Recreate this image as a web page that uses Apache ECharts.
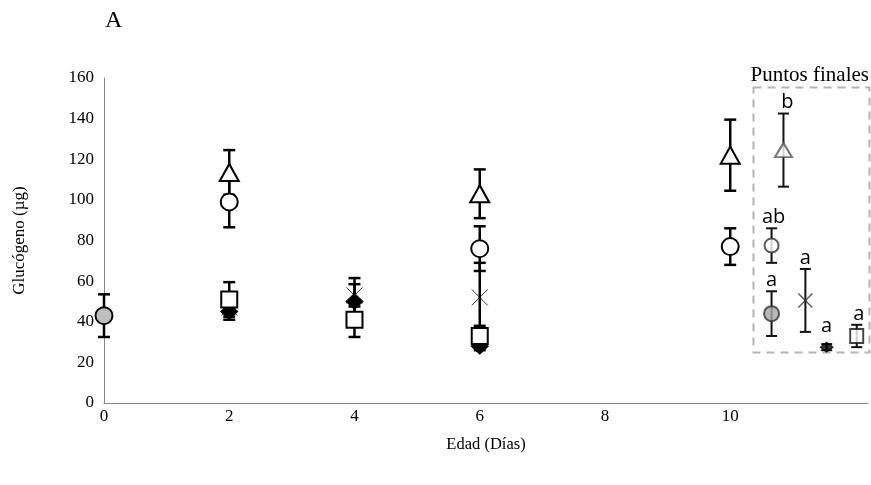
<!DOCTYPE html>
<html><head><meta charset="utf-8">
<script src="https://cdn.jsdelivr.net/npm/echarts@6/dist/echarts.min.js"></script>
<style>html,body{margin:0;padding:0;background:#fff}#c{width:871px;height:485px}</style>
</head><body><div id="c"></div>
<script>
// ---- data ----
const xTicks = [0, 2, 4, 6, 8, 10];
const triX = [2, 6, 10];    const triMean = [113.5, 103, 122];  const triErr = [11, 12, 17.5];
const circX = [2, 6, 10];   const circMean = [99, 76, 77];      const circErr = [12.5, 11, 9];
const sqX = [2, 4, 6];      const sqMean = [51, 41, 33];        const sqErr = [8.5, 8.5, 5];
const diaX = [2, 4, 6];     const diaMean = [45, 50, 28];       const diaErr = [4, 11.5, 2];
const crossX = [2, 4, 6];   const crossMean = [47, 53, 52];     const crossErr = [2, 5.5, 17];
const grayX = [0];          const grayMean = [43];              const grayErr = [10.5];
// end points (Puntos finales): triangle, circle, gray circle, cross, diamond, square
const endX = [10.85, 10.66, 10.66, 11.2, 11.54, 12.02];
const endMean = [124.5, 77.5, 44, 50.5, 27.5, 33];
const endErr = [18, 8.5, 11, 15.5, 1.5, 5.5];
const endLetters = ['b', 'ab', 'a', 'a', 'a', 'a'];

const SERIF = '"Liberation Serif","Times New Roman",serif';
const crossPath = 'path://M0,0L10,10M10,0L0,10';

function zip(xs, ms, es) { return xs.map((x, i) => [x, ms[i], es[i]]); }

function errSeries(xs, ms, es, opt) {
  opt = opt || {};
  const lw = opt.lw || 2.5, cw = opt.cw || 12, col = opt.color || '#000';
  return {
    type: 'custom', z: 2, clip: false, silent: true,
    data: zip(xs, ms, es),
    encode: { x: 0, y: 1 },
    renderItem: function (params, api) {
      const x = api.value(0), m = api.value(1), e = api.value(2);
      const t = api.coord([x, m + e]), b = api.coord([x, m - e]);
      const st = { stroke: col, lineWidth: lw };
      const ch = [
        { type: 'line', shape: { x1: t[0], y1: t[1], x2: b[0], y2: b[1] }, style: st },
        { type: 'line', shape: { x1: t[0] - cw / 2, y1: t[1], x2: t[0] + cw / 2, y2: t[1] }, style: st },
        { type: 'line', shape: { x1: b[0] - cw / 2, y1: b[1], x2: b[0] + cw / 2, y2: b[1] }, style: st }
      ];
      if (opt.letters) {
        const c = api.coord([x, m]);
        const top = Math.min(t[1], c[1] - (opt.half ? opt.half[params.dataIndex] : 0));
        ch.push({ type: 'text', x: t[0] + (opt.dx ? opt.dx[params.dataIndex] : 0), y: top - 1,
          style: { text: opt.letters[params.dataIndex], fill: '#000', fontSize: 20,
            fontFamily: '"Open Sans","Liberation Sans",sans-serif', align: 'center', verticalAlign: 'bottom' } });
      }
      return { type: 'group', children: ch };
    }
  };
}

function markSeries(xs, ms, symbol, size, style) {
  return { type: 'scatter', z: 5, symbol: symbol, symbolSize: size, silent: true,
    data: xs.map((x, i) => [x, ms[i]]), itemStyle: style };
}

const blackStroke = (fill, w) => ({ color: fill, borderColor: '#000', borderWidth: w || 2, opacity: 1 });

const series = [
  errSeries(grayX, grayMean, grayErr),
  errSeries(triX, triMean, triErr),
  errSeries(circX, circMean, circErr),
  errSeries(sqX, sqMean, sqErr),
  errSeries(diaX, diaMean, diaErr),
  errSeries(crossX, crossMean, crossErr),
  errSeries(endX, endMean, endErr, { lw: 2, cw: 11, color: '#111', letters: endLetters,
    half: [0, 7, 7, 0, 10, 7], dx: [4, 2, 0, 0, 0, 2] }),
  markSeries(grayX, grayMean, 'circle', 17, blackStroke('#bfbfbf')),
  markSeries(diaX, diaMean, 'diamond', [17, 16], blackStroke('#000', 1)),
  markSeries(crossX, crossMean, crossPath, [16, 16], { color: 'none', borderColor: '#000', borderWidth: 1 }),
  markSeries(sqX, sqMean, 'rect', [16, 16], blackStroke('#fff')),
  markSeries(circX, circMean, 'circle', 17, blackStroke('#fff')),
  markSeries(triX, triMean, 'triangle', [19, 17], blackStroke('#fff')),
  // end points
  markSeries([endX[0]], [endMean[0]], 'triangle', [17, 14], { color: '#fff', borderColor: '#555', borderWidth: 2 }),
  markSeries([endX[1]], [endMean[1]], 'circle', 14, { color: '#fff', borderColor: '#333', borderWidth: 2 }),
  markSeries([endX[2]], [endMean[2]], 'circle', 15, { color: '#a6a6a6', borderColor: '#333', borderWidth: 2 }),
  markSeries([endX[3]], [endMean[3]], crossPath, [14, 14], { color: 'none', borderColor: '#333', borderWidth: 1.5 }),
  markSeries([endX[4]], [endMean[4]], 'diamond', [13, 10], { color: '#000', borderColor: '#000', borderWidth: 1 }),
  markSeries([endX[5]], [endMean[5]], 'rect', [13, 14], { color: '#fff', borderColor: '#111', borderWidth: 2 })
];

const chart = echarts.init(document.getElementById('c'), null, { renderer: 'canvas' });
chart.setOption({
  animation: false,
  backgroundColor: '#fff',
  grid: { left: 104, right: 1.5, top: 78, bottom: 82, containLabel: false },
  xAxis: {
    type: 'value', min: 0, max: 12.2, interval: 2,
    name: 'Edad (Días)', nameLocation: 'middle', nameGap: 33,
    nameTextStyle: { fontFamily: SERIF, fontSize: 16.5, color: '#000' },
    axisLine: { show: true, lineStyle: { color: '#868686', width: 1 } },
    axisTick: { show: false }, splitLine: { show: false },
    axisLabel: { fontFamily: SERIF, fontSize: 17, color: '#000', margin: 5,
      formatter: v => (xTicks.indexOf(v) >= 0 ? String(v) : '') }
  },
  yAxis: {
    type: 'value', min: 0, max: 160, interval: 20,
    name: 'Glucógeno (µg)', nameLocation: 'middle', nameGap: 76, nameRotate: 90,
    nameTextStyle: { fontFamily: SERIF, fontSize: 17, color: '#000' },
    axisLine: { show: true, lineStyle: { color: '#868686', width: 1 } },
    axisTick: { show: false }, splitLine: { show: false },
    axisLabel: { fontFamily: SERIF, fontSize: 17, color: '#000', margin: 10 }
  },
  graphic: [
    { type: 'text', left: 105, top: 9, style: { text: 'A', fontFamily: SERIF, fontSize: 24, fill: '#000' } },
    { type: 'text', right: 2, top: 65, style: { text: 'Puntos finales', fontFamily: SERIF, fontSize: 21, fill: '#000' } },
    { type: 'rect', shape: { x: 753.5, y: 87.5, width: 116, height: 265 }, z: 1,
      style: { fill: 'none', stroke: '#b4b4b4', lineWidth: 2, lineDash: [8, 6] } }
  ],
  series: series
});
</script></body></html>
